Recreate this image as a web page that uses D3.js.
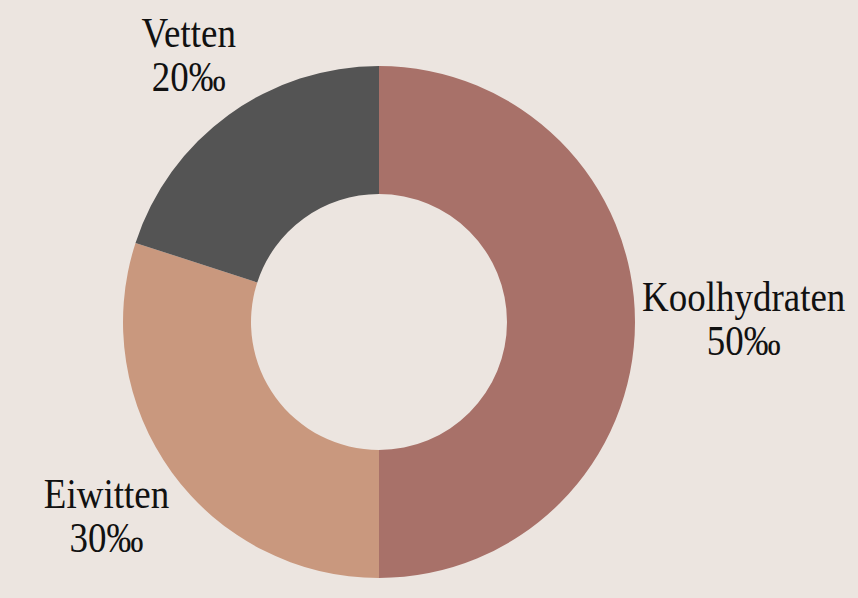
<!DOCTYPE html>
<html>
<head>
<meta charset="utf-8">
<script src="https://cdn.jsdelivr.net/npm/d3@7/dist/d3.min.js"></script>
<style>
  html, body { margin: 0; padding: 0; background: #ECE5E0; }
  svg { display: block; }
</style>
</head>
<body>
<svg id="chart" width="858" height="598"></svg>
<script>
const categories = ["Koolhydraten", "Eiwitten", "Vetten"];
const values = [50, 30, 20];
const valueLabels = ["50‰", "30‰", "20‰"];
const colors = ["#A87169", "#C9987E", "#545454"];

const W = 858, H = 598;
const cx = 379, cy = 322;
const outerR = 256, innerR = 128;

const svg = d3.select("#chart");
svg.append("rect").attr("width", W).attr("height", H).attr("fill", "#ECE5E0");

const data = categories.map((c, i) => ({ name: c, value: values[i], label: valueLabels[i], color: colors[i] }));

const pie = d3.pie().sort(null).value(d => d.value);
const arc = d3.arc().innerRadius(innerR).outerRadius(outerR);
const arcs = pie(data);

const g = svg.append("g").attr("transform", `translate(${cx},${cy})`);
g.selectAll("path")
  .data(arcs)
  .join("path")
  .attr("d", arc)
  .attr("fill", d => d.data.color);

// labels
const scaleX = 0.86;
const anchorR = 268;
arcs.forEach(a => {
  const mid = (a.startAngle + a.endAngle) / 2;
  const s = Math.sin(mid), c = Math.cos(mid);
  const lg = svg.append("g");
  const inner = lg.append("g")
    .attr("font-family", "'Liberation Serif', 'Times New Roman', serif")
    .attr("font-size", 43)
    .attr("fill", "#111")
    .attr("text-anchor", "middle");
  inner.append("text").attr("x", 0).attr("y", -8).text(a.data.name);
  inner.append("text").attr("x", 0).attr("y", 36).text(a.data.label);
  const bb = inner.node().getBBox();
  const w = bb.width * scaleX;
  const h = 72;
  const ax = cx + s * anchorR;
  const ay = cy - c * anchorR;
  const bx = ax + s * w / 2 - 5;
  const by = ay - c * h * 0.85 - 6 * (1 - Math.abs(c)) + (c < 0 ? 3 : 0);
  lg.attr("transform", `translate(${bx},${by}) scale(${scaleX},1)`);
});
</script>
</body>
</html>
